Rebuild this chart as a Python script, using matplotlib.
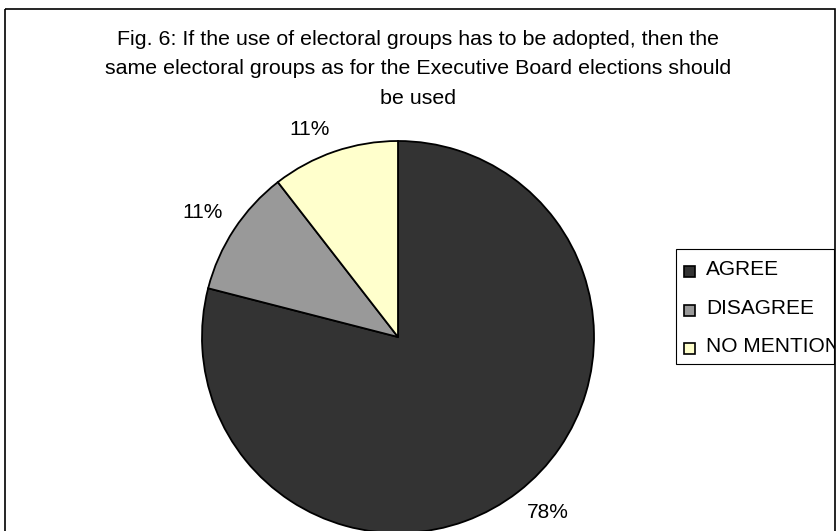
import numpy as np
import matplotlib
matplotlib.use("Agg")
import matplotlib.pyplot as plt
from matplotlib.patches import Rectangle
from matplotlib.transforms import Bbox, TransformedBbox

categories = ["AGREE", "DISAGREE", "NO MENTION"]
values = [79, 10.5, 10.5]          # wedge shares as drawn
pct_labels = ["78%", "11%", "11%"]  # labels as printed on the chart
colors = ["#333333", "#999999", "#FFFFCC"]
title = ("Fig. 6: If the use of electoral groups has to be adopted, then the\n"
         "same electoral groups as for the Executive Board elections should\n"
         "be used")

plt.rcParams['font.family'] = ['Liberation Sans', 'DejaVu Sans']
FS = 15

W, H = 838, 531
fig = plt.figure(figsize=(W / 100, H / 100), dpi=100)

# background axes in pixel coordinates
bg = fig.add_axes([0, 0, 1, 1])
bg.set_xlim(0, W)
bg.set_ylim(H, 0)
bg.axis('off')
frame = Rectangle((5, 9), 830, 540, fill=False, edgecolor='black', lw=1.2, zorder=5)
bg.add_patch(frame)
clipbox = TransformedBbox(Bbox([[5, 9], [834, 549]]), bg.transData)

for i, line in enumerate(title.split('\n')):
    bg.text(418, 45 + 29.5 * i, line, ha='center', va='baseline', fontsize=15.4, color='black')

# legend (manual, clipped by frame)
leg_box = Rectangle((676, 249), 158, 115, fill=False, edgecolor='black', lw=0.8, zorder=4)
bg.add_patch(leg_box)
base0, dy = 275, 38.5
for i, (cat, col) in enumerate(zip(categories, colors)):
    yb = base0 + i * dy
    bg.add_patch(Rectangle((684, yb - 9), 11, 11, facecolor=col, edgecolor='black', lw=1.2, zorder=4))
    t = bg.text(706, yb, cat, ha='left', va='baseline', fontsize=FS, color='black')
    t.set_clip_on(True)
    t.set_clip_box(clipbox)

# pie
cx, cy, r = 398, 337, 196
ax = fig.add_axes([(cx - r) / W, (H - cy - r) / H, 2 * r / W, 2 * r / H])
wedges, texts = ax.pie(values, colors=colors, startangle=90, counterclock=False,
                       labels=pct_labels, labeldistance=1.07,
                       wedgeprops=dict(edgecolor='black', linewidth=1.3),
                       textprops=dict(fontsize=FS, color='black'))
ax.set_xlim(-1, 1)
ax.set_ylim(-1, 1)
ax.set_aspect('equal')
ax.axis('off')
for w in wedges:
    w.set_clip_on(False)
for w, t in zip(wedges, texts):
    t.set_clip_on(False)
    mid = np.deg2rad((w.theta1 + w.theta2) / 2)
    t.set_ha('left' if np.cos(mid) > 0 else 'right')
    t.set_va('bottom' if np.sin(mid) > 0 else 'top')

fig.savefig("out.png", dpi=100)
